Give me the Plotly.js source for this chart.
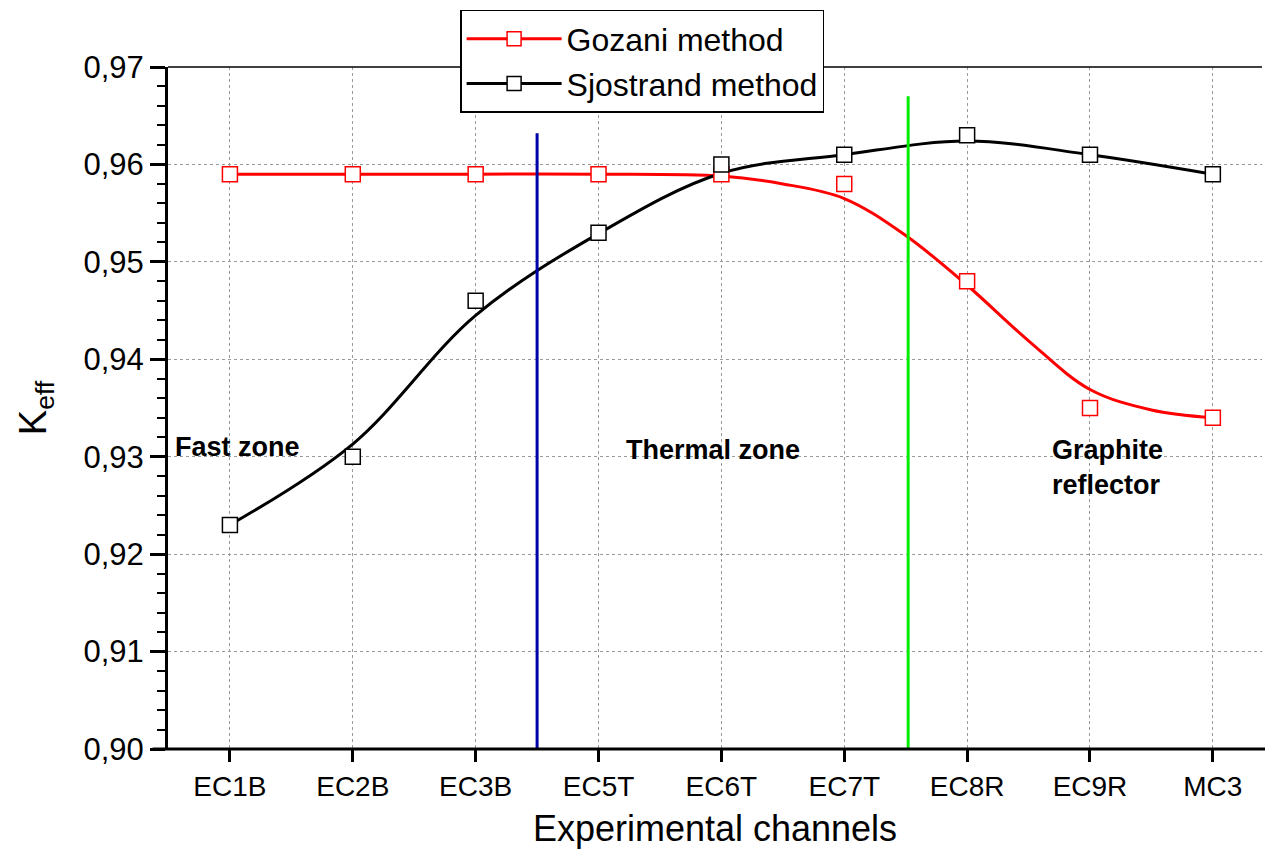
<!DOCTYPE html>
<html>
<head>
<meta charset="utf-8">
<script src="https://cdn.plot.ly/plotly-3.0.1.min.js"></script>
<style>html,body{margin:0;padding:0;background:#fff}#chart{width:1265px;height:849px}</style>
</head>
<body>
<div id="chart"></div>
<script>
// Data
const channels = ["EC1B","EC2B","EC3B","EC5T","EC6T","EC7T","EC8R","EC9R","MC3"];
const channelPos = [0,1,2,3,4,5,6,7,8];
const gozani = [0.959,0.959,0.959,0.959,0.959,0.958,0.948,0.935,0.934];
const sjostrand = [0.923,0.930,0.946,0.953,0.960,0.961,0.963,0.961,0.959];
// smoothed fit curves
const gozaniFitX = [0,1,2,3,4,4.5,5,5.5,6,6.5,7,7.5,8];
const gozaniFit = [0.959,0.959,0.959,0.959,0.9588,0.958,0.9565,0.9527,0.9476,0.9419,0.9369,0.9348,0.934];
const sjostrandFit = [0.923,0.9313,0.9445,0.9529,0.9591,0.9610,0.9624,0.9610,0.959];
// zone boundaries
const boundaryX = [2.5, 5.52];
const boundaryTop = [0.9632, 0.967];
const boundaryColors = ["#0000A8", "#00EE00"];
const zoneLabels = ["<b>Fast zone</b>", "<b>Thermal zone</b>", "<b>Graphite<br>reflector</b>"];
const zoneLabelX = [0.06, 3.93, 7.14];
const zoneLabelY = [0.9310, 0.9307, 0.9289];

const FONT = "Liberation Sans, Arial, sans-serif";

const traces = [
  {x: gozaniFitX, y: gozaniFit, mode: "lines", line: {color: "#FF0000", width: 3, shape: "spline", smoothing: 1}, showlegend: false, hoverinfo: "skip"},
  {x: channelPos, y: sjostrandFit, mode: "lines", line: {color: "#000000", width: 3, shape: "spline", smoothing: 1}, showlegend: false, hoverinfo: "skip"},
  {x: channelPos, y: gozani, mode: "markers", marker: {symbol: "square", size: 15, color: "#FFFFFF", line: {color: "#FF0000", width: 1.5}}, showlegend: false},
  {x: channelPos, y: sjostrand, mode: "markers", marker: {symbol: "square", size: 15, color: "#FFFFFF", line: {color: "#000000", width: 1.5}}, showlegend: false},
  {x: [null], y: [null], name: "Gozani method", mode: "lines+markers", line: {color: "#FF0000", width: 3}, marker: {symbol: "square", size: 14, color: "#FFFFFF", line: {color: "#FF0000", width: 1.5}}},
  {x: [null], y: [null], name: "Sjostrand method", mode: "lines+markers", line: {color: "#000000", width: 3}, marker: {symbol: "square", size: 14, color: "#FFFFFF", line: {color: "#000000", width: 1.5}}}
];

const shapes = [];
boundaryX.forEach((bx, i) => {
  shapes.push({type: "line", xref: "x", yref: "y", x0: bx, x1: bx, y0: 0.90, y1: boundaryTop[i], line: {color: boundaryColors[i], width: 3}});
});
// top frame line
shapes.push({type: "line", xref: "paper", yref: "paper", x0: 0, x1: 1, y0: 1, y1: 1, line: {color: "#000", width: 1.5}});
// bottom axis line extending slightly left
shapes.push({type: "line", xref: "paper", yref: "paper", x0: -0.014, x1: 1.003, y0: 0, y1: 0, line: {color: "#000", width: 3}});

const annotations = zoneLabels.map((t, i) => ({
  x: zoneLabelX[i], y: zoneLabelY[i], xref: "x", yref: "y", text: t, showarrow: false,
  font: {family: FONT, size: 27, color: "#000"}, align: "left", xanchor: "center", yanchor: "middle"
}));

const layout = {
  width: 1265, height: 849,
  margin: {l: 168, r: 3, t: 67, b: 100},
  paper_bgcolor: "#fff", plot_bgcolor: "#fff",
  font: {family: FONT, color: "#000"},
  xaxis: {
    range: [-0.504, 8.4], tickvals: channelPos, ticktext: channels,
    showline: false, ticks: "outside", ticklen: 12, tickwidth: 3, tickcolor: "#000",
    showgrid: true, gridcolor: "#9a9a9a", gridwidth: 1, griddash: "dot",
    zeroline: false, tickfont: {family: FONT, size: 28},
    title: {text: "Experimental channels", font: {family: FONT, size: 36}, standoff: 15}
  },
  yaxis: {
    range: [0.90, 0.97], dtick: 0.01, tickformat: ".2f",
    showline: true, linewidth: 3, linecolor: "#000",
    ticks: "outside", ticklen: 15, tickwidth: 3, tickcolor: "#000",
    minor: {dtick: 0.002, ticks: "outside", ticklen: 8, tickwidth: 2, tickcolor: "#000", showgrid: false},
    showgrid: true, gridcolor: "#9a9a9a", gridwidth: 1, griddash: "dot",
    zeroline: false, tickfont: {family: FONT, size: 31},
    title: {text: "K<sub>eff</sub>", font: {family: FONT, size: 38}, standoff: 26}
  },
  separators: ", ",
  legend: {
    x: 0.267, y: 1.0836, xanchor: "left", yanchor: "top",
    bgcolor: "#fff", bordercolor: "#000", borderwidth: 1.5,
    font: {family: FONT, size: 32}, tracegroupgap: 0, itemwidth: 95
  },
  shapes: shapes,
  annotations: annotations
};

Plotly.newPlot("chart", traces, layout, {displayModeBar: false, staticPlot: true});
</script>
</body>
</html>
